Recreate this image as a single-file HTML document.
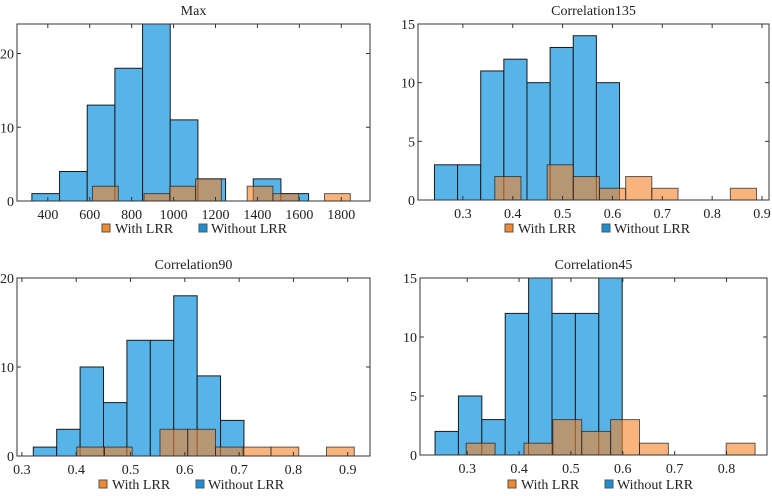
<!DOCTYPE html>
<html><head><meta charset="utf-8"><style>
body{margin:0;background:#fff}
svg text{font-family:"Liberation Serif",serif;font-size:14px;fill:#222}
</style></head><body>
<svg id="c" width="772" height="491" viewBox="0 0 772 491" xmlns="http://www.w3.org/2000/svg"></svg>
<script>
// Panel data
const titles = ["Max","Correlation135","Correlation90","Correlation45"];
const blueStart = [324, 0.243, 0.321, 0.238];
const blueWidth = [132, 0.0464, 0.0431, 0.0451];
const blueCounts = [
 [1,4,13,18,24,11,3,0,3,1],
 [3,3,11,12,10,13,14,10],
 [1,3,10,6,13,13,18,9,4],
 [2,5,3,12,15,12,12,15]
];
const orangeStart = [613, 0.364, 0.401, 0.298];
const orangeWidth = [123, 0.0525, 0.0511, 0.0557];
const orangeCounts = [
 [2,0,1,2,3,0,2,1,0,1],
 [2,0,3,2,1,2,1,0,0,1],
 [1,1,0,3,3,1,1,1,0,1],
 [1,0,1,3,2,3,1,0,0,1]
];
const xTicks = [
 [400,600,800,1000,1200,1400,1600,1800],
 [0.3,0.4,0.5,0.6,0.7,0.8,0.9],
 [0.3,0.4,0.5,0.6,0.7,0.8,0.9],
 [0.3,0.4,0.5,0.6,0.7,0.8]
];
const yTicks = [[0,10,20],[0,5,10,15],[0,10,20],[0,5,10,15]];
const xLims = [[253,1937],[0.21,0.914],[0.291,0.941],[0.209,0.878]];
const yMax = [24,15,20,15];

const boxes = [
 {l:17,r:370,t:24,b:201,ly:229,lo:105},
 {l:418,r:769,t:24,b:200,ly:229,lo:508},
 {l:17,r:370,t:278,b:456,ly:485,lo:102},
 {l:420,r:767,t:278,b:455,ly:485,lo:511}
];
const NS="http://www.w3.org/2000/svg";
const svg=document.getElementById('c');
function mk(tag,attrs,parent){const e=document.createElementNS(NS,tag);for(const k in attrs)e.setAttribute(k,attrs[k]);(parent||svg).appendChild(e);return e;}
const fmt=v=>(Math.abs(v)<1&&v!==0)?v.toFixed(1):String(v);

boxes.forEach((B,i)=>{
  const g=mk('g',{});
  
  
  const [x0,x1]=xLims[i];
  const X=v=>B.l+(v-x0)/(x1-x0)*(B.r-B.l);
  const Y=v=>B.b-v/yMax[i]*(B.b-B.t);
  const cid='clip'+i;
  const cp=mk('clipPath',{id:cid},g);mk('rect',{x:B.l,y:B.t,width:B.r-B.l,height:B.b-B.t},cp);
  const bars=mk('g',{'clip-path':'url(#'+cid+')'},g);
  blueCounts[i].forEach((c,k)=>{
    if(!c)return;
    const a=blueStart[i]+k*blueWidth[i];
    const r=mk('rect',{x:X(a),y:Y(c),width:X(a+blueWidth[i])-X(a),height:Y(0)-Y(c),fill:'#56b4e8',stroke:'#1a1a1a','stroke-width':1},bars);
    
    
  });
  orangeCounts[i].forEach((c,k)=>{
    if(!c)return;
    const a=orangeStart[i]+k*orangeWidth[i];
    const r=mk('rect',{x:X(a),y:Y(c),width:X(a+orangeWidth[i])-X(a),height:Y(0)-Y(c),fill:'rgba(245,130,40,0.6)',stroke:'rgba(30,30,30,0.7)','stroke-width':1},bars);
    
    
  });
  mk('rect',{x:B.l,y:B.t,width:B.r-B.l,height:B.b-B.t,fill:'none',stroke:'#333','stroke-width':1},g);
  xTicks[i].forEach(v=>{
    const x=X(v);
    mk('line',{x1:x,x2:x,y1:B.b,y2:B.b-4,stroke:'#333'},g);
    mk('line',{x1:x,x2:x,y1:B.t,y2:B.t+4,stroke:'#333'},g);
    const t=mk('text',{x:x,y:B.b+18,'text-anchor':'middle'},g);t.textContent=fmt(v);
    
    
  });
  yTicks[i].forEach(v=>{
    const y=Y(v);
    mk('line',{x1:B.l,x2:B.l+4,y1:y,y2:y,stroke:'#333'},g);
    mk('line',{x1:B.r,x2:B.r-4,y1:y,y2:y,stroke:'#333'},g);
    const t=mk('text',{x:B.l-3,y:y+5,'text-anchor':'end'},g);t.textContent=v;
    
    
  });
  const tt=mk('text',{x:(B.l+B.r)/2,y:B.t-9,'text-anchor':'middle'},g);tt.textContent=titles[i];
  
  
  // legend
  const lg=mk('g',{},g);
  
  
  mk('rect',{x:B.lo-3,y:B.ly-5,width:8,height:8,fill:'#f08a2c',stroke:'#555'},lg);
  const t1=mk('text',{x:B.lo+10,y:B.ly+4},lg);t1.textContent='With LRR';
  
  
  mk('rect',{x:B.lo+94,y:B.ly-5,width:8,height:8,fill:'#1b8fd6',stroke:'#555'},lg);
  const t2=mk('text',{x:B.lo+106,y:B.ly+4},lg);t2.textContent='Without LRR';
  
  
});
</script>
</body></html>
